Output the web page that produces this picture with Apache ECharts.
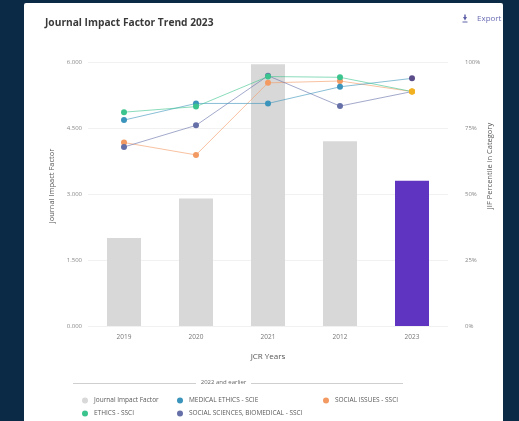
<!DOCTYPE html>
<html>
<head>
<meta charset="utf-8">
<script src="https://cdn.jsdelivr.net/npm/echarts@6/dist/echarts.min.js"></script>
<style>
  html, body { margin: 0; padding: 0; background: #0b2a46; }
  #chart { width: 519px; height: 421px; }
</style>
</head>
<body>
<div id="chart"></div>
<script>
// JCR years on the category axis
const years = ['2019', '2020', '2021', '2012', '2023'];

// Journal Impact Factor per year (left axis)
const jifValues = [2.0, 2.9, 5.95, 4.2, 3.3];

// JIF percentile in each category (right axis, %)
const ethicsSsci = [81.0, 83.1, 94.5, 94.2, 88.8];
const medicalEthicsScie = [78.0, 84.3, 84.3, 90.6, 93.8];
const socialIssuesSsci = [69.5, 64.8, 92.1, 92.8, 88.8];
const socialSciBiomedSsci = [67.8, 76.0, 94.8, 83.3, 88.8];

// Tick labels
const leftTicks = ['0.000', '1.500', '3.000', '4.500', '6.000'];
const rightTicks = ['0%', '25%', '50%', '75%', '100%'];

const FONT = '"Open Sans", "Noto Sans", sans-serif';
const CURRENT = years.length - 1;

const COLORS = {
  bar: '#d8d8d8',
  barCurrent: '#5f34c0',
  ethics: '#3cc48e',
  medical: '#3b94bb',
  issues: '#f39a62',
  biomed: '#6670a8',
  pointCurrent: '#f1b121',
  pointCurrentAlt: '#5a4d89'
};

function lineSeries(name, values, color, currentColor) {
  return {
    name: name,
    type: 'line',
    yAxisIndex: 1,
    data: values.map((v, i) => i === CURRENT
      ? { value: v, itemStyle: { color: currentColor } }
      : v),
    symbol: 'circle',
    symbolSize: 6,
    z: 5,
    itemStyle: { color: color, opacity: 1 },
    lineStyle: { color: color, width: 1, opacity: 0.6 },
    emphasis: { disabled: true }
  };
}

const barData = jifValues.map((v, i) => i === CURRENT
  ? { value: v, itemStyle: { color: COLORS.barCurrent } }
  : v);

function legendAt(name, left, top) {
  return {
    data: [name],
    left: left,
    top: top,
    icon: 'circle',
    itemWidth: 6,
    itemHeight: 6,
    itemGap: 4,
    selectedMode: false,
    textStyle: { fontFamily: FONT, fontSize: 6.5, color: '#5a5a5a', padding: [0, 0, 0, 1] }
  };
}

const chart = echarts.init(document.getElementById('chart'), null, { renderer: 'canvas' });

chart.setOption({
  backgroundColor: '#0b2a46',
  animation: false,
  title: {
    text: 'Journal Impact Factor Trend 2023',
    left: 40,
    top: 13,
    textStyle: { fontFamily: FONT, fontSize: 10.2, fontWeight: 'bold', color: '#3a3a3a' }
  },
  grid: { left: 88, right: 71, top: 62, bottom: 95, containLabel: false },
  legend: [
    legendAt('Journal Impact Factor', 77, 392),
    legendAt('MEDICAL ETHICS - SCIE', 172, 392),
    legendAt('SOCIAL ISSUES - SSCI', 318, 392),
    legendAt('ETHICS - SSCI', 77, 405),
    legendAt('SOCIAL SCIENCES, BIOMEDICAL - SSCI', 172, 405)
  ],
  xAxis: {
    type: 'category',
    data: years,
    axisLine: { show: false },
    axisTick: { show: false },
    axisLabel: { fontFamily: FONT, fontSize: 6.5, color: '#777', margin: 8 },
    name: 'JCR Years',
    nameLocation: 'middle',
    nameGap: 27,
    nameTextStyle: { fontFamily: FONT, fontSize: 8, color: '#555' }
  },
  yAxis: [
    {
      type: 'value',
      min: 0,
      max: 6,
      interval: 1.5,
      axisLine: { show: false },
      axisTick: { show: false },
      axisLabel: {
        fontFamily: FONT, fontSize: 6, color: '#888', margin: 6,
        formatter: (v) => leftTicks[Math.round(v / 1.5)]
      },
      splitLine: { lineStyle: { color: '#f1f1f1', width: 1 } }
    },
    {
      type: 'value',
      min: 0,
      max: 100,
      interval: 25,
      position: 'right',
      axisLine: { show: false },
      axisTick: { show: false },
      axisLabel: {
        fontFamily: FONT, fontSize: 6, color: '#888', margin: 17,
        formatter: (v) => rightTicks[Math.round(v / 25)]
      },
      splitLine: { show: false }
    }
  ],
  series: [
    {
      name: 'Journal Impact Factor',
      type: 'bar',
      data: barData,
      barWidth: 34,
      itemStyle: { color: COLORS.bar },
      emphasis: { disabled: true },
      z: 2
    },
    lineSeries('SOCIAL ISSUES - SSCI', socialIssuesSsci, COLORS.issues, COLORS.pointCurrent),
    lineSeries('SOCIAL SCIENCES, BIOMEDICAL - SSCI', socialSciBiomedSsci, COLORS.biomed, COLORS.pointCurrent),
    lineSeries('MEDICAL ETHICS - SCIE', medicalEthicsScie, COLORS.medical, COLORS.pointCurrentAlt),
    lineSeries('ETHICS - SSCI', ethicsSsci, COLORS.ethics, COLORS.pointCurrent)
  ],
  graphic: [
    // white card
    { type: 'rect', z: -10, shape: { x: 24, y: 3, width: 479, height: 420, r: 2 }, style: { fill: '#ffffff' } },
    // axis titles
    {
      type: 'text', x: 52, y: 186, rotation: Math.PI / 2, z: 10,
      style: { text: 'Journal Impact Factor', fontFamily: FONT, fontSize: 7.5, fill: '#555', align: 'center', verticalAlign: 'middle' }
    },
    {
      type: 'text', x: 490, y: 166, rotation: Math.PI / 2, z: 10,
      style: { text: 'JIF Percentile in Category', fontFamily: FONT, fontSize: 7.5, fill: '#555', align: 'center', verticalAlign: 'middle' }
    },
    // export control
    {
      type: 'polygon', z: 10,
      shape: { points: [[463, 17], [467, 17], [465, 20.5]] },
      style: { fill: '#5d60a8' }
    },
    { type: 'rect', z: 10, shape: { x: 464.3, y: 14.5, width: 1.4, height: 3 }, style: { fill: '#5d60a8' } },
    { type: 'rect', z: 10, shape: { x: 462.5, y: 21.5, width: 5, height: 1 }, style: { fill: '#5d60a8' } },
    {
      type: 'text', x: 477, y: 19, z: 10,
      style: { text: 'Export', fontFamily: FONT, fontSize: 8, fill: '#6a6db3', align: 'left', verticalAlign: 'middle' }
    },
    { type: 'rect', z: 20, shape: { x: 503, y: 0, width: 16, height: 421 }, style: { fill: '#0b2a46' } },
    // legend group divider
    { type: 'line', z: 10, shape: { x1: 73, y1: 383.5, x2: 196, y2: 383.5 }, style: { stroke: '#cfcfcf', lineWidth: 1 } },
    { type: 'line', z: 10, shape: { x1: 251, y1: 383.5, x2: 403, y2: 383.5 }, style: { stroke: '#cfcfcf', lineWidth: 1 } },
    {
      type: 'text', x: 223.5, y: 382, z: 10,
      style: { text: '2022 and earlier', fontFamily: FONT, fontSize: 6, fill: '#666', align: 'center', verticalAlign: 'middle' }
    }
  ]
});
</script>
</body>
</html>
